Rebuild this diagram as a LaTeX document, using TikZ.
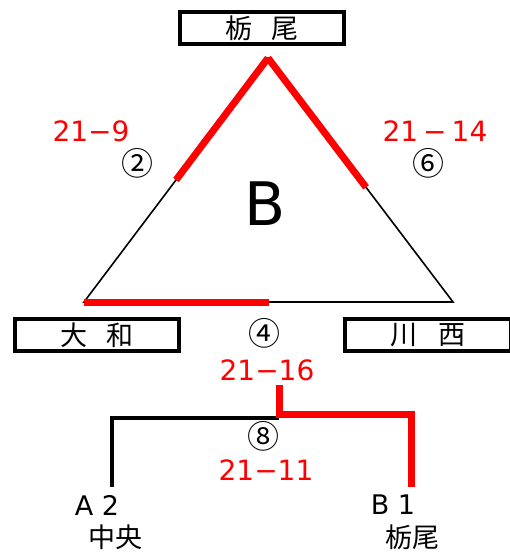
\documentclass[tikz,border=0pt]{standalone}
\usepackage{fontspec}
\setmainfont{DejaVu Sans}
\newfontfamily\jp{Noto Sans CJK JP}
\usetikzlibrary{calc}
\definecolor{win}{RGB}{255,0,0}
\tikzset{
  teambox/.style={draw=black,line width=3.5pt,minimum width=164pt,minimum height=32pt,inner sep=0pt,font=\jp\fontsize{27}{27}\selectfont},
  score/.style={text=win,font=\fontsize{28}{28}\selectfont,inner sep=0pt},
  gameno/.style={font=\jp\fontsize{32}{32}\selectfont,inner sep=0pt},
  side/.style={line width=1.6pt,black},
  winline/.style={line width=7pt,win,line cap=butt},
  lab/.style={font=\fontsize{27}{27}\selectfont,inner sep=0pt},
  jplab/.style={font=\jp\fontsize{27}{27}\selectfont,inner sep=0pt}
}
\begin{document}
\begin{tikzpicture}[x=1pt,y=-1pt]
\useasboundingbox (0,0) rectangle (509,556);
% team boxes
\node[teambox] (tochio) at (262,28) {栃\hspace{0.72em}尾};
\node[teambox] (yamato) at (97,335) {大\hspace{0.72em}和};
\node[teambox,minimum width=166pt] (kawanishi) at (428,335) {川\hspace{0.78em}西};
% triangle
\coordinate (T) at (268,58);
\coordinate (L) at (84,302);
\coordinate (R) at (453,302);
\draw[side,line join=miter] (T) -- (L) -- (R) -- cycle;
\draw[winline] ($(T)!0.5!(L)$) -- (T);
\draw[winline] (T) -- ($(T)!0.53!(R)$);
\draw[winline] (L) -- ($(L)!0.5!(R)$);
\node[font=\fontsize{60}{60}\selectfont,inner sep=0pt] (grp) at (265,204) {B};
% scores and game numbers
\node[score] (s2) at (91,131) {21−9};
\node[gameno] (g2) at (137,163) {②};
\node[score] (s6) at (435,131) {21\hspace{0.18em}−\hspace{0.18em}14};
\node[gameno] (g6) at (428,163) {⑥};
\node[gameno] (g4) at (264,333) {④};
\node[score] (s4) at (267,370) {21−16};
% final bracket
\coordinate (top) at (279,385);
\coordinate (mid) at (279,418);
\coordinate (a2) at (112,487);
\coordinate (b1) at (411,487);
\draw[line width=3.5pt,black] (a2) |- (mid);
\draw[winline,line join=miter] (top) -- ($(mid)+(0,-3.5)$) -| (b1);
\draw[winline] (top) -- (mid);
\node[gameno] (g8) at (263,436) {⑧};
\node[score] (s8) at (266,470) {21−11};
\node[lab] (na2) at (97,505) {A 2};
\node[jplab] (nc) at (115,537) {中央};
\node[lab] (nb1) at (393,505) {B 1};
\node[jplab] (nt) at (412,537) {栃尾};
\end{tikzpicture}
\end{document}
